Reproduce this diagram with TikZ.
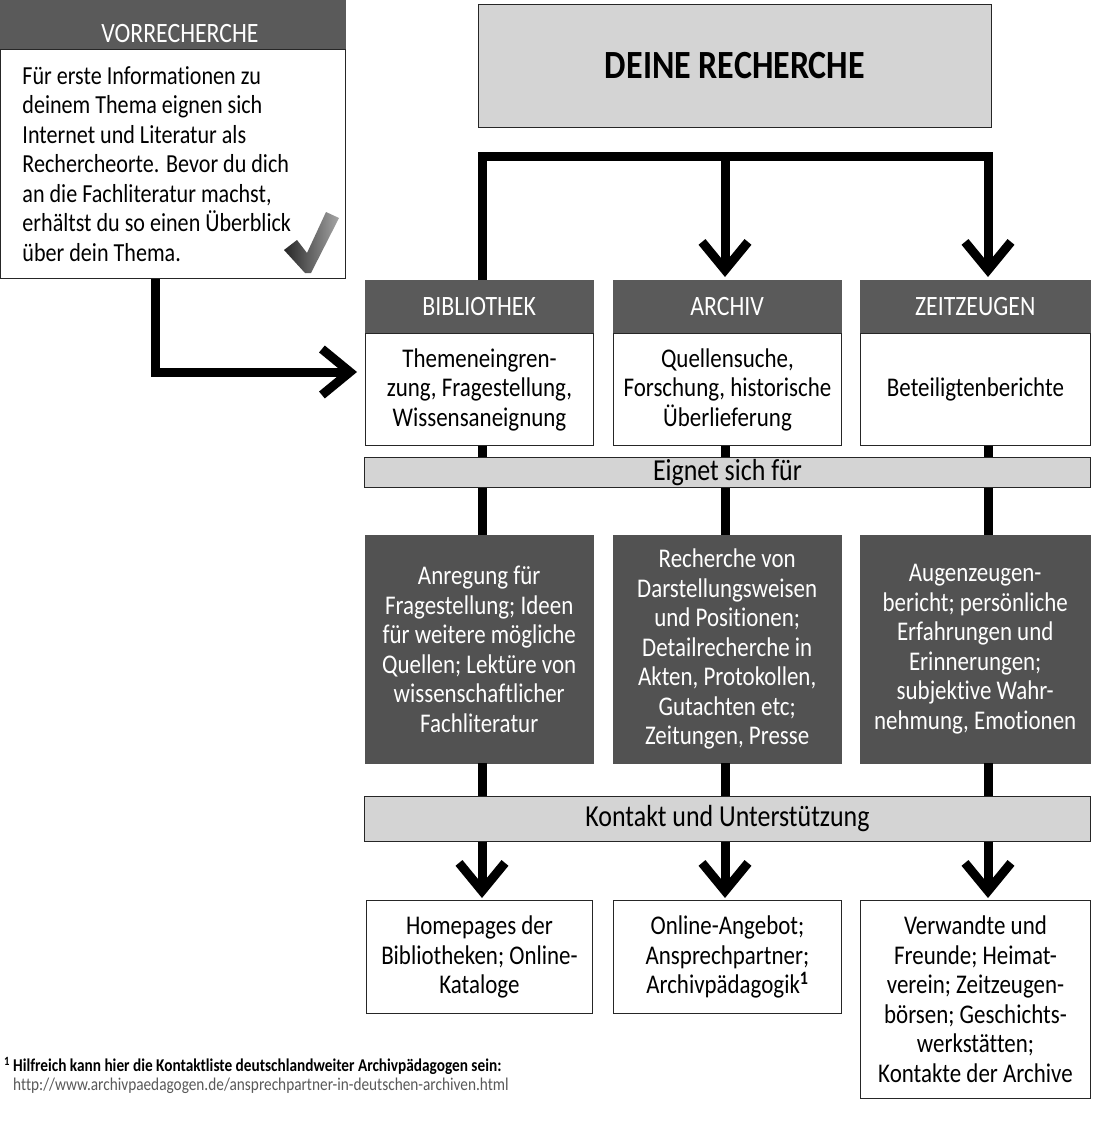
\documentclass[tikz,border=0pt]{standalone}
\usepackage{fontspec}
\setmainfont{Carlito}[FakeStretch=0.85,Ligatures=NoCommon]
\usetikzlibrary{arrows.meta,calc}
\definecolor{hdr}{HTML}{5A5A5A}
\definecolor{darkb}{HTML}{525252}
\definecolor{lite}{HTML}{D4D4D4}
\newcommand\fsVor{\fontsize{26}{29.5}\selectfont}
\newcommand\fsBody{\fontsize{27}{29.5}\selectfont}
\newcommand\fsHead{\fontsize{28}{30}\selectfont}
\newcommand\fsBar{\fontsize{30.5}{32}\selectfont}
\newcommand\fsDeine{\fontsize{40}{44}\selectfont\bfseries}
\newcommand\fsFoot{\fontsize{18}{18.5}\selectfont}
\begin{document}
\begin{tikzpicture}[x=1pt,y=-1pt,
  conn/.style={line width=9pt, draw=black, line join=miter},
  arr/.style={-{Straight Barb[length=28pt,width=46pt]}},
  hdrbox/.style={rectangle, fill=hdr, draw=hdr, inner sep=0pt, text=white, font=\fsHead, anchor=north west},
  whitebox/.style={rectangle, fill=white, draw=black!85, line width=0.9pt, inner sep=0pt, align=center, font=\fsBody, anchor=north west},
  darkbox/.style={rectangle, fill=darkb, draw=darkb, inner sep=0pt, align=center, text=white, font=\fsBody, anchor=north west},
  barbox/.style={rectangle, fill=lite, draw=black!85, line width=0.9pt, inner sep=0pt, font=\fsBar, anchor=north west},
]
\useasboundingbox (0,0) rectangle (1105,1121);
\fill[white] (0,0) rectangle (1105,1121);

% Vorrecherche
\node[hdrbox, minimum width=345pt, minimum height=49pt] (vorhead) at (0,0) {};
\node[text=white, font=\fsHead, inner sep=0pt] (vorlabel) at (180,34) {VORRECHERCHE};
\node[whitebox, minimum width=345pt, minimum height=229pt, align=flush left, text width=301pt, inner xsep=22pt, font=\fsVor] (vorbody) at (0,49)
 {Für erste Informationen zu\\deinem Thema eignen sich\\Internet und Literatur als\\Rechercheorte. Bevor du dich\\an die Fachliteratur machst,\\erhältst du so einen Überblick\\über dein Thema.};
\shade[left color=black!85, right color=black!35] (284,250) -- (297,240) -- (307,253) -- (326,212) -- (339,218) -- (311,273) -- (305,273) -- cycle;

% Deine Recherche
\node[barbox, minimum width=513pt, minimum height=123pt, font=\fsDeine] (deine) at (478,4) {DEINE RECHERCHE};

% column headers
\node[hdrbox, minimum width=228pt, minimum height=53pt] (bibhead) at (365,280) {BIBLIOTHEK};
\node[hdrbox, minimum width=228pt, minimum height=53pt] (archead) at (613,280) {ARCHIV};
\node[hdrbox, minimum width=230pt, minimum height=53pt] (zeithead) at (860,280) {ZEITZEUGEN};

% column bodies
\node[whitebox, minimum width=228pt, minimum height=112pt] (bibbody) at (365,333) {Themeneingren-\\zung, Fragestellung,\\Wissensaneignung};
\node[whitebox, minimum width=228pt, minimum height=112pt] (archbody) at (613,333) {Quellensuche,\\Forschung, historische\\Überlieferung};
\node[whitebox, minimum width=230pt, minimum height=112pt] (zeitbody) at (860,333) {Beteiligtenberichte};

% Eignet sich fuer
\node[barbox, minimum width=726pt, minimum height=30pt] (eignet) at (364,457) {Eignet sich für};

% dark boxes
\node[darkbox, minimum width=228pt, minimum height=228pt] (bibdark) at (365,535) {Anregung für\\Fragestellung; Ideen\\für weitere mögliche\\Quellen; Lektüre von\\wissenschaftlicher\\Fachliteratur};
\node[darkbox, minimum width=228pt, minimum height=228pt] (archdark) at (613,535) {Recherche von\\Darstellungsweisen\\und Positionen;\\Detailrecherche in\\Akten, Protokollen,\\Gutachten etc;\\Zeitungen, Presse};
\node[darkbox, minimum width=230pt, minimum height=228pt] (zeitdark) at (860,535) {Augenzeugen-\\bericht; persönliche\\Erfahrungen und\\Erinnerungen;\\subjektive Wahr-\\nehmung, Emotionen};

% Kontakt
\node[barbox, minimum width=726pt, minimum height=45pt] (kontakt) at (364,796) {Kontakt und Unterstützung};

% bottom boxes
\node[whitebox, minimum width=226pt, minimum height=113pt] (bibbot) at (366,900) {Homepages der\\Bibliotheken; Online-\\Kataloge};
\node[whitebox, minimum width=228pt, minimum height=113pt] (archbot) at (613,900) {Online-Angebot;\\Ansprechpartner;\\Archivpädagogik\textsuperscript{\textbf{1}}};
\node[whitebox, minimum width=230pt, minimum height=198pt] (zeitbot) at (860,900) {Verwandte und\\Freunde; Heimat-\\verein; Zeitzeugen-\\börsen; Geschichts-\\werkstätten;\\Kontakte der Archive};

% footnote
\node[anchor=north west, inner sep=0pt, align=left, font=\fsFoot] (foot) at (4,1057)
 {\textsuperscript{\textbf{1}}\,\textbf{Hilfreich kann hier die Kontaktliste deutschlandweiter Archivpädagogen sein:}\\\hspace*{9pt}\textcolor{black!65}{http://www.archivpaedagogen.de/ansprechpartner-in-deutschen-archiven.html}};

% connector coordinates
\coordinate (cL) at (482,0);
\coordinate (cM) at (725,0);
\coordinate (cR) at (988,0);
\coordinate (topbar) at (0,156);
\coordinate (vL) at (155,0);
\coordinate (aY) at (0,372);

% top connectors
\draw[conn,arr] (bibhead.north -| cL) |- (cR |- topbar) -- ($(zeithead.north -| cR)+(0,-3)$);
\draw[conn,arr] (cM |- topbar) -- ($(archead.north -| cM)+(0,-3)$);
% left arrow
\draw[conn,arr] (vorbody.south -| vL) |- ($(bibbody.west |- aY)+(-8,0)$);

% vertical connectors
\draw[conn] (bibbody.south -| cL) -- (eignet.north -| cL);
\draw[conn] (archbody.south -| cM) -- (eignet.north -| cM);
\draw[conn] (zeitbody.south -| cR) -- (eignet.north -| cR);
\draw[conn] (eignet.south -| cL) -- (bibdark.north -| cL);
\draw[conn] (eignet.south -| cM) -- (archdark.north -| cM);
\draw[conn] (eignet.south -| cR) -- (zeitdark.north -| cR);
\draw[conn] (bibdark.south -| cL) -- (kontakt.north -| cL);
\draw[conn] (archdark.south -| cM) -- (kontakt.north -| cM);
\draw[conn] (zeitdark.south -| cR) -- (kontakt.north -| cR);
\draw[conn,arr] (kontakt.south -| cL) -- ($(bibbot.north -| cL)+(0,-2)$);
\draw[conn,arr] (kontakt.south -| cM) -- ($(archbot.north -| cM)+(0,-2)$);
\draw[conn,arr] (kontakt.south -| cR) -- ($(zeitbot.north -| cR)+(0,-2)$);
\end{tikzpicture}
\end{document}
